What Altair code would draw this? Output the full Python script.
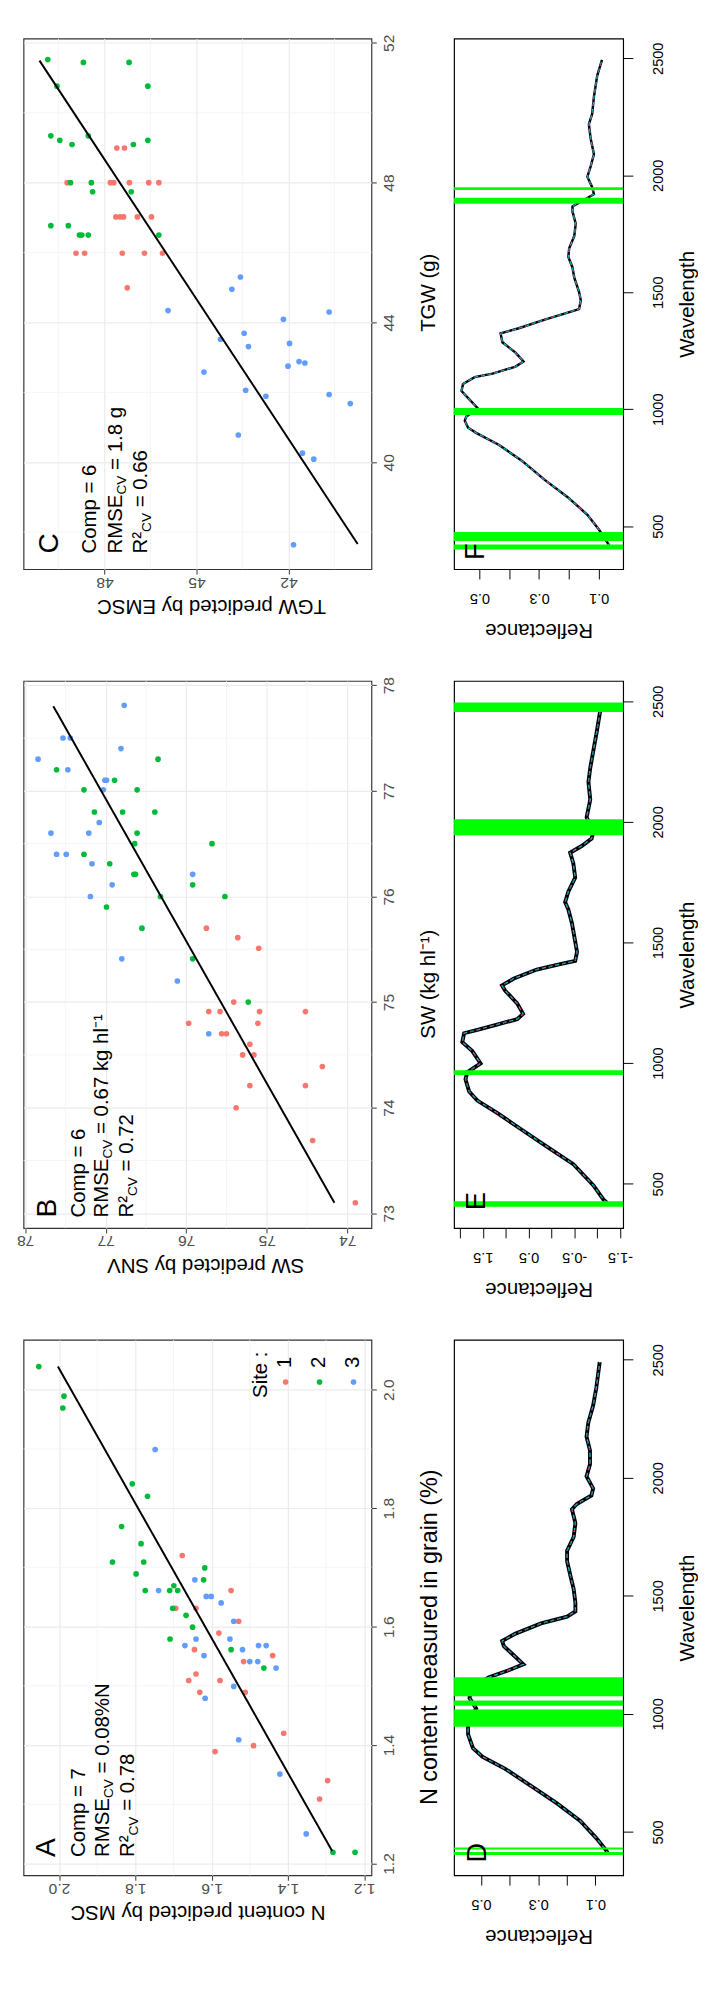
import altair as alt
import pandas as pd

FONT = "Liberation Sans"
SITE_DOMAIN = ["1", "2", "3"]
SITE_RANGE = ["#F8766D", "#00BA38", "#619CFF"]

# ---------------- Panel C : TGW ----------------
c_red_pred = [49.22, 47.81, 47.70, 47.19, 46.56, 46.23, 47.60, 47.35, 47.63, 47.49, 47.38, 46.93, 46.47, 48.93, 48.65, 47.42, 46.70, 46.11, 47.26]
c_red_meas = [48.0, 48.0, 48.0, 48.0, 48.0, 48.0, 48.99, 48.99, 47.02, 47.02, 47.02, 47.02, 47.02, 45.98, 45.98, 45.98, 45.98, 45.98, 44.99]
c_green_pred = [49.85, 48.69, 47.20, 49.55, 46.59, 49.75, 49.46, 48.53, 49.06, 47.06, 46.59, 49.11, 48.43, 48.39, 47.13, 49.75, 49.18, 48.82, 48.74, 48.53, 46.23]
c_green_meas = [51.52, 51.44, 51.44, 50.76, 50.76, 49.34, 49.21, 49.34, 49.09, 49.09, 49.21, 48.0, 48.0, 47.74, 47.74, 46.77, 46.77, 46.50, 46.50, 46.50, 46.50]
c_blue_pred = [45.93, 43.57, 43.85, 40.68, 42.17, 43.45, 44.22, 43.31, 41.97, 41.66, 41.47, 42.02, 44.76, 43.40, 42.74, 40.68, 39.99, 43.64, 41.55, 41.18, 41.84]
c_blue_meas = [44.34, 45.30, 44.95, 44.30, 44.09, 43.69, 43.52, 43.31, 43.40, 42.88, 42.84, 42.75, 42.58, 42.06, 41.89, 41.94, 41.68, 40.78, 40.26, 40.09, 37.64]
c_line_pred = [39.75, 50.12]
c_line_meas = [37.66, 51.49]

# ---------------- Panel B : SW ----------------
b_red_pred = [75.75, 75.36, 75.10, 75.41, 75.72, 75.58, 75.09, 74.52, 75.97, 75.11, 75.56, 75.50, 75.21, 75.30, 75.16, 74.31, 75.21, 74.52, 75.38, 74.43, 73.90]
b_red_meas = [75.70, 75.61, 75.51, 75.00, 74.91, 74.91, 74.91, 74.91, 74.80, 74.80, 74.70, 74.70, 74.60, 74.50, 74.50, 74.39, 74.21, 74.21, 74.00, 73.69, 73.10]
b_green_pred = [77.61, 76.35, 76.89, 77.27, 76.61, 77.14, 76.79, 76.39, 76.61, 76.64, 75.68, 77.27, 76.95, 76.65, 76.63, 75.92, 76.32, 75.52, 76.99, 76.55, 75.92, 75.23]
b_green_meas = [77.20, 77.30, 77.10, 77.01, 77.01, 76.80, 76.80, 76.80, 76.60, 76.50, 76.50, 76.40, 76.31, 76.21, 76.21, 76.11, 76.00, 76.00, 75.90, 75.70, 75.41, 75.00]
b_blue_pred = [76.77, 77.53, 77.44, 76.81, 77.84, 77.47, 77.01, 76.99, 77.03, 77.08, 77.68, 77.21, 77.61, 77.49, 77.17, 75.92, 76.92, 77.19, 76.80, 76.11, 75.72]
b_blue_meas = [77.81, 77.50, 77.50, 77.40, 77.30, 77.20, 77.10, 77.10, 77.01, 76.70, 76.60, 76.60, 76.40, 76.40, 76.31, 76.21, 76.11, 76.00, 75.41, 75.20, 74.70]
b_line_pred = [74.16, 77.65]
b_line_meas = [73.10, 77.80]

# ---------------- Panel A : N content ----------------
a_red_pred = [1.677, 1.549, 1.694, 1.641, 1.529, 1.581, 1.645, 1.516, 1.440, 1.641, 1.660, 1.578, 1.631, 1.512, 1.411, 1.591, 1.490, 1.296, 1.317]
a_red_meas = [1.720, 1.661, 1.631, 1.631, 1.609, 1.589, 1.561, 1.541, 1.551, 1.520, 1.509, 1.509, 1.489, 1.489, 1.420, 1.389, 1.399, 1.340, 1.309]
a_green_pred = [2.053, 1.987, 1.990, 1.808, 1.768, 1.836, 1.785, 1.860, 1.778, 1.618, 1.798, 1.621, 1.774, 1.710, 1.699, 1.689, 1.702, 1.667, 1.650, 1.709, 1.549, 1.463, 1.282, 1.224]
a_green_meas = [2.039, 1.989, 1.969, 1.841, 1.820, 1.769, 1.740, 1.709, 1.709, 1.699, 1.689, 1.679, 1.661, 1.661, 1.669, 1.661, 1.631, 1.619, 1.599, 1.579, 1.561, 1.530, 1.219, 1.219]
a_blue_pred = [1.748, 1.644, 1.739, 1.614, 1.601, 1.575, 1.542, 1.641, 1.552, 1.670, 1.519, 1.477, 1.457, 1.620, 1.500, 1.479, 1.431, 1.542, 1.617, 1.529, 1.421, 1.352]
a_blue_meas = [1.899, 1.679, 1.661, 1.651, 1.651, 1.640, 1.609, 1.579, 1.579, 1.568, 1.561, 1.568, 1.568, 1.551, 1.541, 1.541, 1.530, 1.499, 1.479, 1.409, 1.351, 1.250]
a_line_pred = [1.284, 2.003]
a_line_meas = [1.221, 2.039]

# legend of panel A (drawn inside the panel)
legend_sites = ["1", "2", "3"]
legend_pred = [1.406, 1.317, 1.228]
legend_meas = 2.013
legend_label_meas = 2.046
legend_title_pos = (1.469, 1.986)

# ---------------- Spectra ----------------
f_wl = [410, 427, 487, 549, 624, 698, 780, 847, 899, 921, 951, 969, 1003, 1041, 1078, 1108, 1137, 1152, 1182, 1204, 1242, 1286, 1324, 1346, 1383, 1413, 1428, 1465, 1502, 1562, 1606, 1651, 1688, 1740, 1793, 1845, 1867, 1919, 1949, 1994, 2038, 2090, 2157, 2217, 2262, 2336, 2426, 2493]
f_refl = [0.062, 0.069, 0.100, 0.138, 0.204, 0.281, 0.358, 0.434, 0.511, 0.538, 0.549, 0.544, 0.505, 0.533, 0.560, 0.555, 0.516, 0.456, 0.379, 0.352, 0.379, 0.423, 0.429, 0.368, 0.281, 0.204, 0.166, 0.160, 0.166, 0.182, 0.188, 0.202, 0.199, 0.182, 0.177, 0.188, 0.188, 0.116, 0.122, 0.138, 0.127, 0.116, 0.127, 0.133, 0.122, 0.116, 0.105, 0.089]
f_band_lo = [400, 437, 975, 1878, 1937]
f_band_hi = [422, 475, 1005, 1904, 1949]

e_wl = [420, 434, 493, 581, 654, 728, 794, 845, 882, 933, 962, 999, 1050, 1087, 1124, 1138, 1160, 1182, 1204, 1248, 1300, 1322, 1351, 1388, 1410, 1424, 1461, 1505, 1579, 1637, 1667, 1711, 1769, 1828, 1872, 1901, 1931, 1960, 2019, 2092, 2165, 2224, 2298, 2371, 2452, 2490]
e_val = [-1.22, -1.14, -0.92, -0.48, 0.10, 0.68, 1.19, 1.62, 1.80, 1.88, 1.84, 1.55, 1.73, 1.95, 1.91, 1.62, 1.19, 0.75, 0.62, 0.75, 1.01, 1.08, 0.82, 0.32, -0.19, -0.52, -0.56, -0.52, -0.45, -0.37, -0.30, -0.37, -0.52, -0.48, -0.41, -0.67, -0.88, -0.92, -0.77, -0.85, -0.81, -0.85, -0.92, -0.99, -1.06, -1.10]
e_band_lo = [405, 951, 1945, 2456]
e_band_hi = [427, 970, 2011, 2495]

d_wl = [405, 422, 474, 547, 620, 694, 767, 818, 855, 913, 957, 1023, 1067, 1110, 1155, 1185, 1210, 1243, 1287, 1309, 1339, 1383, 1412, 1434, 1471, 1529, 1588, 1647, 1691, 1749, 1808, 1867, 1889, 1925, 1955, 2006, 2057, 2116, 2174, 2233, 2306, 2380, 2490]
d_refl = [0.055, 0.0625, 0.097, 0.153, 0.233, 0.324, 0.415, 0.494, 0.528, 0.545, 0.545, 0.517, 0.540, 0.535, 0.472, 0.403, 0.352, 0.381, 0.420, 0.426, 0.381, 0.290, 0.199, 0.170, 0.170, 0.176, 0.188, 0.199, 0.199, 0.176, 0.170, 0.182, 0.165, 0.114, 0.108, 0.131, 0.119, 0.119, 0.131, 0.125, 0.108, 0.097, 0.085]
d_band_lo = [402, 426, 946, 1034, 1075]
d_band_hi = [415, 434, 1019, 1057, 1155]

WL_DOMAIN = [316, 2584]
WL_TICKS = [500, 1000, 1500, 2000, 2500]


def site_frame(rp, rm, gp, gm, bp, bm):
    rows = []
    for s, ps, ms in (("1", rp, rm), ("2", gp, gm), ("3", bp, bm)):
        rows += [{"site": s, "pred": p, "meas": m} for p, m in zip(ps, ms)]
    return pd.DataFrame(rows)


def text_layer(X, Y, xs, ys, texts, size, dx=0, dy=0, align="left"):
    df = pd.DataFrame({"pred": xs, "meas": ys, "t": texts})
    return alt.Chart(df).mark_text(angle=270, align=align, baseline="middle",
                                   fontSize=size, dx=dx, dy=dy, color="black",
                                   font=FONT).encode(x=X, y=Y, text="t:N")


def scatter_panel(pts, lp, lm, pdom, mdom, pmaj, pmin, mmaj, mmin, fmt,
                  xtitle, ytitle, ann, w, h, title_x_shift, title_y_shift,
                  ytitle_size=21, legend=False):
    xs = alt.Scale(domain=pdom, reverse=True, nice=False, zero=False)
    ys = alt.Scale(domain=mdom, nice=False, zero=False)
    xax = alt.Axis(values=pmaj, format=fmt, title=xtitle, orient="bottom",
                   labelAngle=180, labelAlign="center", labelBaseline="alphabetic",
                   labelFontSize=16, labelColor="#4D4D4D", labelPadding=3,
                   tickSize=5, tickColor="#333333", domain=False,
                   grid=True, gridColor="#EBEBEB", gridWidth=1.2,
                   titleAngle=180, titleBaseline="alphabetic", titleFontSize=21,
                   titleX=w / 2 + title_x_shift,
                   titleFontWeight="normal", titleColor="black", titlePadding=10)
    yax = alt.Axis(values=mmaj, format=fmt, title=ytitle, orient="right",
                   labelAngle=270, labelAlign="center", labelBaseline="top",
                   labelFontSize=16, labelColor="#4D4D4D", labelPadding=5,
                   tickSize=5, tickColor="#333333", domain=False,
                   grid=True, gridColor="#EBEBEB", gridWidth=1.2,
                   titleAngle=270, titleBaseline="top", titleFontSize=ytitle_size,
                   titleY=h / 2 + title_y_shift,
                   titleFontWeight="normal", titleColor="black", titlePadding=22)
    X = alt.X("pred:Q", scale=xs, axis=xax)
    Y = alt.Y("meas:Q", scale=ys, axis=yax)
    color = alt.Color("site:N", scale=alt.Scale(domain=SITE_DOMAIN, range=SITE_RANGE), legend=None)
    layers = [
        alt.Chart(pd.DataFrame({"pred": pmin})).mark_rule(color="#F2F2F2", strokeWidth=0.8).encode(x=X),
        alt.Chart(pd.DataFrame({"meas": mmin})).mark_rule(color="#F2F2F2", strokeWidth=0.8).encode(y=Y),
        alt.Chart(pts).mark_circle(size=34, opacity=1).encode(x=X, y=Y, color=color),
        alt.Chart(pd.DataFrame({"pred": lp, "meas": lm})).mark_line(color="black", strokeWidth=2).encode(
            x=X, y=Y, order=alt.Order("meas:Q")),
    ]
    start = ann["start"]
    layers.append(text_layer(X, Y, [ann["letter_x"]], [start], [ann["letter"]], 29))
    layers.append(text_layer(X, Y, [ann["comp_x"]], [start], [ann["comp"]], 21))
    layers.append(text_layer(X, Y, [ann["rmse_x"]], [start], ["RMSE"], 21))
    layers.append(text_layer(X, Y, [ann["rmse_x"]], [start], ["CV"], 14, dx=60.7, dy=6))
    layers.append(text_layer(X, Y, [ann["rmse_x"]], [start], [ann["rmse"]], 21, dx=86))
    layers.append(text_layer(X, Y, [ann["r2_x"]], [start], ["R²"], 21))
    layers.append(text_layer(X, Y, [ann["r2_x"]], [start], ["CV"], 14, dx=22.2, dy=6))
    layers.append(text_layer(X, Y, [ann["r2_x"]], [start], [ann["r2"]], 21, dx=47.5))
    if legend:
        layers.append(text_layer(X, Y, [legend_title_pos[0]], [legend_title_pos[1]], ["Site :"], 21))
        layers.append(alt.Chart(pd.DataFrame({"pred": legend_pred, "meas": [legend_meas] * 3, "site": legend_sites}))
                      .mark_circle(size=34, opacity=1).encode(x=X, y=Y, color=color))
        layers.append(text_layer(X, Y, legend_pred, [legend_label_meas] * 3, legend_sites, 21, align="center"))
    return alt.layer(*layers).properties(
        width=w, height=h, view=alt.ViewBackground(stroke="#333333", strokeWidth=1.2, fill="white"))


def spectra_panel(wl, refl, blo, bhi, rdom, rvals, lab_expr, letter, letter_pos, w, h, lw):
    xs = alt.Scale(domain=rdom, reverse=True, nice=False, zero=False)
    ys = alt.Scale(domain=WL_DOMAIN, nice=False, zero=False)
    xax = alt.Axis(values=rvals, labelExpr=lab_expr, title="Reflectance", orient="bottom",
                   labelAngle=180, labelAlign="center", labelBaseline="bottom",
                   labelFontSize=15, labelColor="black", labelPadding=12,
                   tickSize=10, tickColor="black", domain=False, grid=False,
                   titleAngle=180, titleBaseline="bottom", titleFontSize=21,
                   titleFontWeight="normal", titleColor="black", titlePadding=15)
    yax = alt.Axis(values=WL_TICKS, format="d", title="Wavelength", orient="right",
                   labelAngle=270, labelAlign="center", labelBaseline="top",
                   labelFontSize=15, labelColor="black", labelPadding=18,
                   tickSize=10, tickColor="black", domain=False, grid=False,
                   titleAngle=270, titleBaseline="top", titleFontSize=21,
                   titleFontWeight="normal", titleColor="black", titlePadding=12)
    X = alt.X("refl:Q", scale=xs, axis=xax)
    Y = alt.Y("wl:Q", scale=ys, axis=yax)
    curve = pd.DataFrame({"wl": wl, "refl": refl})
    base = alt.Chart(curve)
    order = alt.Order("wl:Q")
    layers = [
        base.mark_line(color="black", strokeWidth=lw).encode(x=X, y=Y, order=order),
        base.mark_line(color="#00CDCD", strokeWidth=1.3, strokeDash=[4, 3]).encode(x=X, y=Y, order=order),
        base.mark_line(color="#CD00CD", strokeWidth=1.2, strokeDash=[2, 5]).encode(x=X, y=Y, order=order),
        base.mark_line(color="#00CD00", strokeWidth=1.0, strokeDash=[1, 6]).encode(x=X, y=Y, order=order),
        alt.Chart(pd.DataFrame({"wl": blo, "wl2": bhi})).mark_rect(color="#00FF00", opacity=1).encode(
            y=Y, y2="wl2:Q"),
        alt.Chart(pd.DataFrame({"refl": [letter_pos[0]], "wl": [letter_pos[1]], "t": [letter]}))
        .mark_text(angle=270, align="left", baseline="middle", fontSize=28, color="black", font=FONT)
        .encode(x=X, y=Y, text="t:N"),
    ]
    return alt.layer(*layers).properties(
        width=w, height=h, view=alt.ViewBackground(stroke="black", strokeWidth=1.2, fill="white"))


ptsC = site_frame(c_red_pred, c_red_meas, c_green_pred, c_green_meas, c_blue_pred, c_blue_meas)
ptsB = site_frame(b_red_pred, b_red_meas, b_green_pred, b_green_meas, b_blue_pred, b_blue_meas)
ptsA = site_frame(a_red_pred, a_red_meas, a_green_pred, a_green_meas, a_blue_pred, a_blue_meas)

annC = dict(start=37.39, letter="C", letter_x=49.80, comp="Comp = 6", comp_x=48.48,
            rmse="= 1.8 g", rmse_x=47.63, r2="= 0.66", r2_x=46.80)
annB = dict(start=72.96, letter="B", letter_x=77.73, comp="Comp = 6", comp_x=77.33,
            rmse="= 0.67 kg hl⁻¹", rmse_x=77.04, r2="= 0.72", r2_x=76.73)
annA = dict(start=1.211, letter="A", letter_x=2.034, comp="Comp = 7", comp_x=1.948,
            rmse="= 0.08%N", rmse_x=1.885, r2="= 0.78", r2_x=1.819)

H1, H2, H3 = 546, 563, 551
WS, WP = 358, 174

scC = scatter_panel(ptsC, c_line_pred, c_line_meas, [39.3, 50.64], [36.94, 52.12],
                    [42, 45, 48], [40.5, 43.5, 46.5, 49.5], [40, 44, 48, 52], [38, 42, 46, 50], "d",
                    "TGW predicted by EMSC", "TGW (g)", annC, WS, H1, 14, -12)
scB = scatter_panel(ptsB, b_line_pred, b_line_meas, [73.7, 78.02], [72.86, 78.04],
                    [74, 75, 76, 77, 78], [74.5, 75.5, 76.5, 77.5], [73, 74, 75, 76, 77, 78],
                    [73.5, 74.5, 75.5, 76.5, 77.5], "d",
                    "SW predicted by SNV", "SW (kg hl⁻¹)", annB, WS, H2, 8, 30)
scA = scatter_panel(ptsA, a_line_pred, a_line_meas, [1.181, 2.093], [1.18, 2.084],
                    [1.2, 1.4, 1.6, 1.8, 2.0], [1.3, 1.5, 1.7, 1.9], [1.2, 1.4, 1.6, 1.8, 2.0],
                    [1.3, 1.5, 1.7, 1.9], ".1f",
                    "N content predicted by MSC", "N content measured in grain (%)", annA, WS, H3, 0, 30,
                    ytitle_size=24, legend=True)

LAB01 = "(round(datum.value*10) % 2 == 0) ? '' : format(datum.value, '.1f')"
LAB05 = "(round(datum.value*2) % 2 == 0) ? '' : replace(format(datum.value, '.1f'), '\u2212', '-')"

spF = spectra_panel(f_wl, f_refl, f_band_lo, f_band_hi, [0.018, 0.585], [0.1, 0.2, 0.3, 0.4, 0.5],
                    LAB01, "F", (0.511, 356), WP, H1, 2.5)
spE = spectra_panel(e_wl, e_val, e_band_lo, e_band_hi, [-1.57, 2.13], [-1.5, -1.0, -0.5, 0.0, 0.5, 1.0, 1.5, 2.0],
                    LAB05, "E", (1.63, 390), WP, H2, 4)
spD = spectra_panel(d_wl, d_refl, d_band_lo, d_band_hi, [0.003, 0.594], [0.1, 0.2, 0.3, 0.4, 0.5],
                    LAB01, "D", (0.511, 371), WP, H3, 4)

chart = alt.concat(scC, spF, scB, spE, scA, spD, columns=2,
                   spacing={"row": 115, "column": 85}, bounds="flush").properties(
    padding={"left": 8, "top": -3, "right": 0, "bottom": 0},
    background="white",
).configure(font=FONT).configure_text(font=FONT)

chart.save("out.html", embed_options={"renderer": "svg", "actions": False})
